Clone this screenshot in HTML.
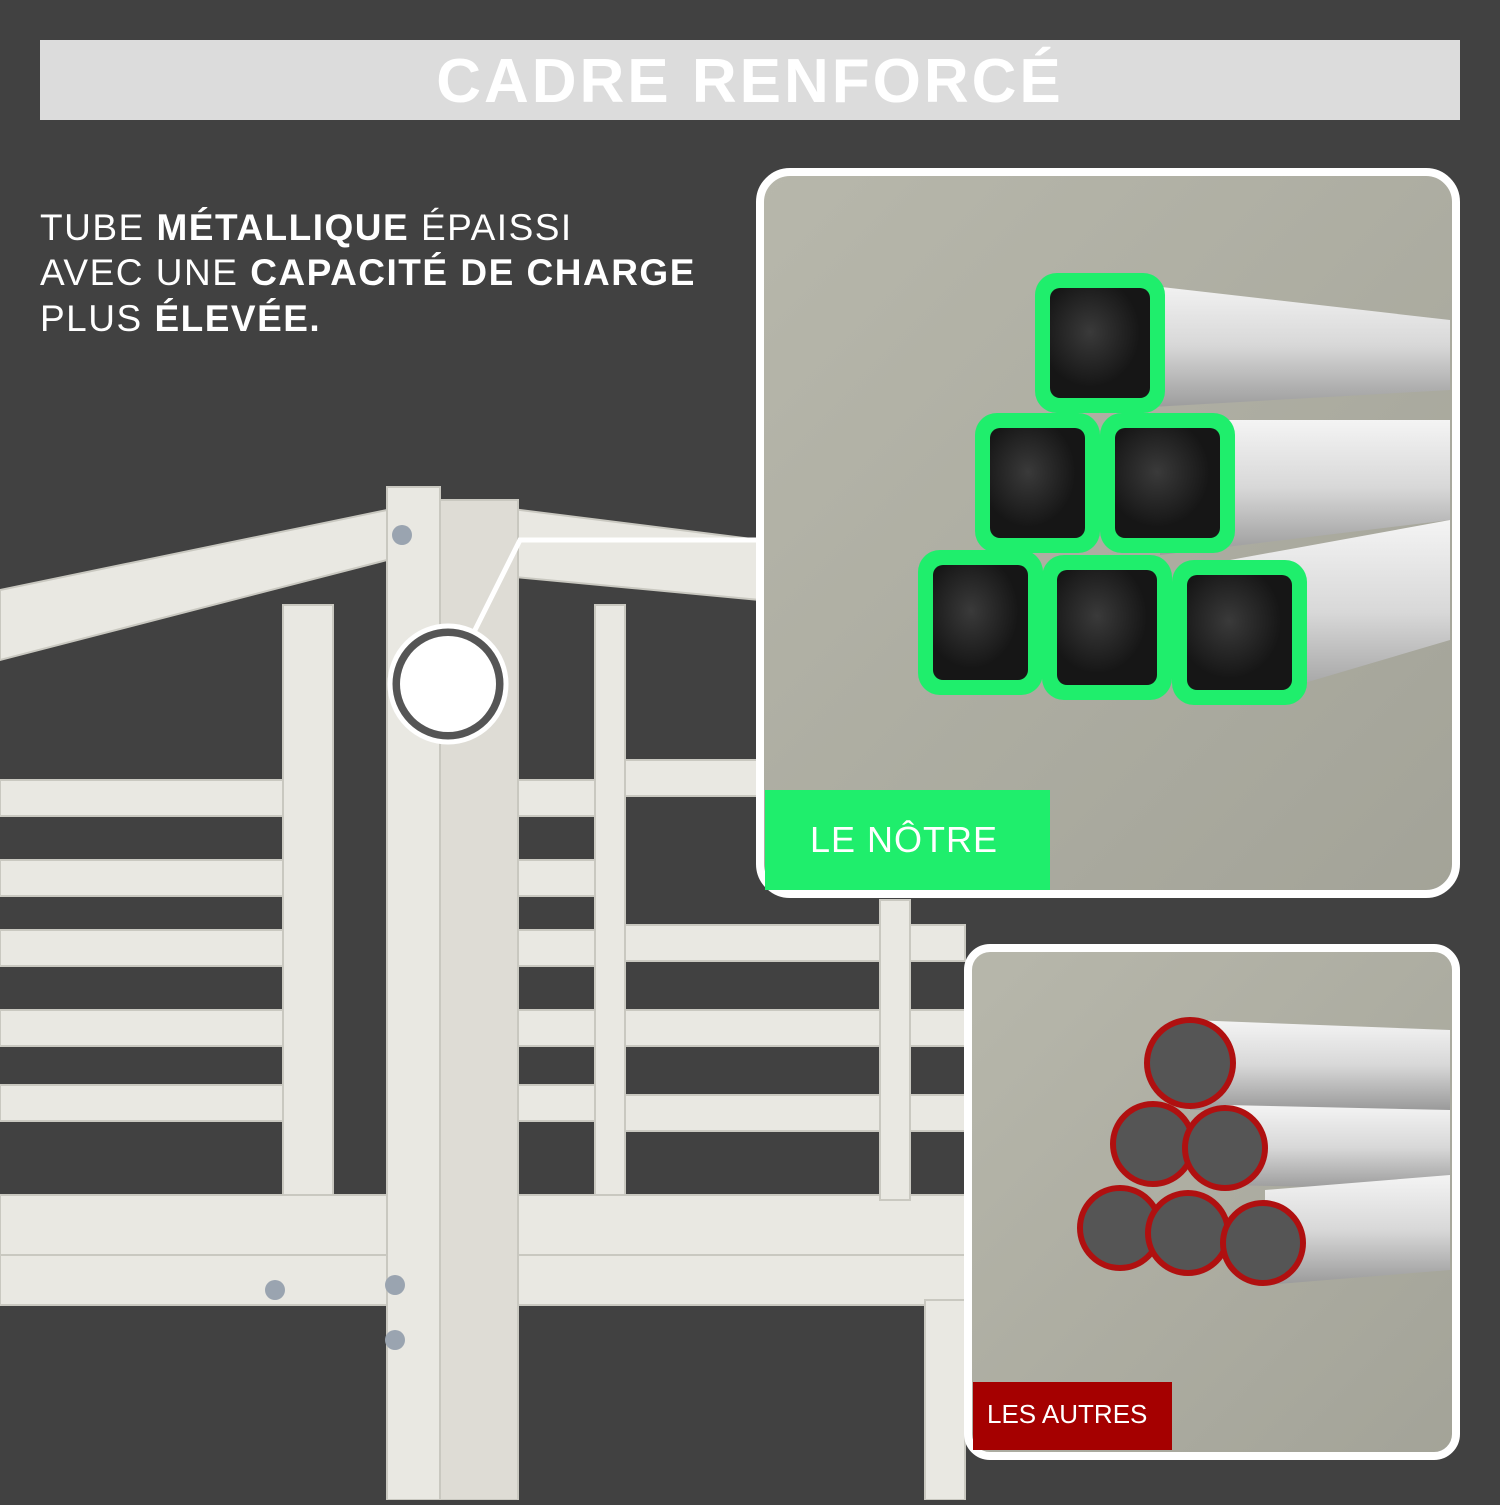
<!DOCTYPE html>
<html><head><meta charset="utf-8"><style>
body{margin:0;width:1500px;height:1500px;overflow:hidden;background:#414141;font-family:"Liberation Sans",sans-serif}
</style></head><body>
<svg width="1500" height="1500" viewBox="0 0 1500 1500" xmlns="http://www.w3.org/2000/svg">
<defs>
<linearGradient id="bg1" x1="0" y1="0" x2="1" y2="1"><stop offset="0" stop-color="#b7b7ab"/><stop offset="1" stop-color="#a3a398"/></linearGradient>
<linearGradient id="tube" x1="0" y1="0" x2="0" y2="1"><stop offset="0" stop-color="#f4f4f4"/><stop offset="0.5" stop-color="#d8d8d8"/><stop offset="1" stop-color="#9a9a9a"/></linearGradient>
<radialGradient id="dk" cx="0.4" cy="0.4"><stop offset="0" stop-color="#3a3a3a"/><stop offset="1" stop-color="#161616"/></radialGradient>
</defs>
<rect width="1500" height="1500" fill="#414141"/>
<rect x="40" y="40" width="1420" height="80" fill="#dcdcdc"/>
<text x="750" y="102" text-anchor="middle" font-size="62" font-weight="bold" letter-spacing="3" fill="#fff" font-family="Liberation Sans, sans-serif">CADRE RENFORCÉ</text>
<g font-size="37" fill="#fff" letter-spacing="1.5">
<text x="40" y="240">TUBE <tspan font-weight="bold">MÉTALLIQUE</tspan> ÉPAISSI</text>
<text x="40" y="285">AVEC UNE <tspan font-weight="bold">CAPACITÉ DE CHARGE</tspan></text>
<text x="40" y="331">PLUS <tspan font-weight="bold">ÉLEVÉE.</tspan></text>
</g>
<g fill="#e9e8e2" stroke="#c9c8c0" stroke-width="2">
<polygon points="0,590 387,510 387,560 0,660"/>
<polygon points="440,500 760,540 760,600 440,570"/>
<rect x="283" y="605" width="50" height="650"/>
<rect x="595" y="605" width="30" height="650"/>
<rect x="0" y="780" width="283" height="36"/>
<rect x="0" y="860" width="283" height="36"/>
<rect x="0" y="930" width="283" height="36"/>
<rect x="0" y="1010" width="283" height="36"/>
<rect x="0" y="1085" width="283" height="36"/>
<rect x="440" y="780" width="155" height="36"/>
<rect x="440" y="860" width="155" height="36"/>
<rect x="440" y="930" width="155" height="36"/>
<rect x="440" y="1010" width="155" height="36"/>
<rect x="440" y="1085" width="155" height="36"/>
<rect x="625" y="760" width="135" height="36"/>
<rect x="625" y="925" width="340" height="36"/>
<rect x="625" y="1010" width="340" height="36"/>
<rect x="625" y="1095" width="340" height="36"/>
<rect x="0" y="1195" width="965" height="60"/>
<rect x="0" y="1255" width="965" height="50"/>
<rect x="880" y="900" width="30" height="300"/>
<rect x="925" y="1300" width="40" height="200"/>
<rect x="387" y="487" width="53" height="1013"/>
<rect x="440" y="500" width="78" height="1000" fill="#dedcd5"/>
</g>
<g fill="#9aa4b0"><circle cx="402" cy="535" r="10"/><circle cx="275" cy="1290" r="10"/><circle cx="395" cy="1285" r="10"/><circle cx="395" cy="1340" r="10"/></g>
<polyline points="470,640 520,540 760,540" fill="none" stroke="#fff" stroke-width="5"/>
<circle cx="448" cy="684" r="58" fill="#555" stroke="#fff" stroke-width="5"/>
<circle cx="448" cy="684" r="48" fill="#fff"/>
<rect x="760" y="172" width="696" height="722" rx="30" fill="url(#bg1)" stroke="#fff" stroke-width="8"/>
<g>
<polygon points="1100,280 1450,320 1450,390 1100,410" fill="url(#tube)"/>
<polygon points="1160,420 1450,420 1450,520 1160,555" fill="url(#tube)"/>
<polygon points="1230,560 1450,520 1450,640 1230,705" fill="url(#tube)"/>
<g fill="#1fee6c">
<rect x="1035" y="273" width="130" height="140" rx="22"/>
<rect x="975" y="413" width="125" height="140" rx="22"/>
<rect x="1100" y="413" width="135" height="140" rx="22"/>
<rect x="918" y="550" width="125" height="145" rx="22"/>
<rect x="1042" y="555" width="130" height="145" rx="22"/>
<rect x="1172" y="560" width="135" height="145" rx="22"/>
</g>
<g fill="url(#dk)">
<rect x="1050" y="288" width="100" height="110" rx="10"/>
<rect x="990" y="428" width="95" height="110" rx="10"/>
<rect x="1115" y="428" width="105" height="110" rx="10"/>
<rect x="933" y="565" width="95" height="115" rx="10"/>
<rect x="1057" y="570" width="100" height="115" rx="10"/>
<rect x="1187" y="575" width="105" height="115" rx="10"/>
</g>
</g>
<rect x="765" y="790" width="285" height="100" fill="#1fee6c"/>
<text x="810" y="852" font-size="36" fill="#fff" letter-spacing="1">LE NÔTRE</text>
<rect x="968" y="948" width="488" height="508" rx="22" fill="url(#bg1)" stroke="#fff" stroke-width="8"/>
<g>
<polygon points="1190,1020 1450,1030 1450,1110 1190,1110" fill="url(#tube)"/>
<polygon points="1225,1105 1450,1110 1450,1190 1225,1185" fill="url(#tube)"/>
<polygon points="1265,1190 1450,1175 1450,1270 1265,1285" fill="url(#tube)"/>
<g fill="#555" stroke="#b01010" stroke-width="6">
<circle cx="1190" cy="1063" r="43"/>
<circle cx="1153" cy="1144" r="40"/>
<circle cx="1225" cy="1148" r="40"/>
<circle cx="1120" cy="1228" r="40"/>
<circle cx="1188" cy="1233" r="40"/>
<circle cx="1263" cy="1243" r="40"/>
</g>
</g>
<rect x="973" y="1382" width="199" height="68" fill="#a50000"/>
<text x="987" y="1423" font-size="26" fill="#fff">LES AUTRES</text>
</svg>
</body></html>
